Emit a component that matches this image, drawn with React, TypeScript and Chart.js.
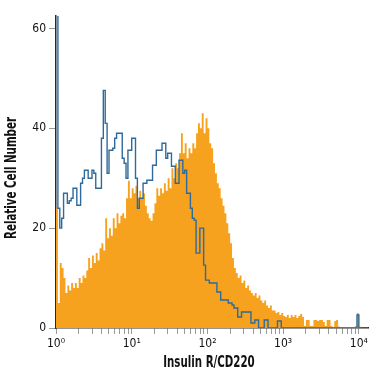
import React, { useEffect, useRef } from 'react';
import { Chart, registerables } from 'chart.js';

Chart.register(...registerables);

// Channel width in decades (log10 units); bins start at 10^0
const BIN_DECADES = 0.025;

// Orange filled histogram (Insulin R/CD220 stained)
const orangeCounts = [
  24, 5, 13, 12, 10, 7, 8.5, 7.5, 9, 8,
  9, 8, 10, 9, 10.5, 10, 11.5, 14, 12, 14.5,
  13, 15, 13.5, 16, 17, 15.5, 22, 18, 20, 18.5,
  22, 20, 23, 21, 22.5, 23, 22, 26, 29.5, 26,
  28, 27, 28.5, 26, 27.5, 26, 27, 24.5, 23, 22,
  21.5, 23, 25, 28, 26.5, 28, 27, 29, 27.5, 30,
  28, 32, 30, 33, 32, 35, 39, 35, 37, 34,
  36, 35, 37, 36, 39, 41, 40, 43, 39, 42,
  40, 37, 36, 33, 31, 29, 28, 26, 24.5, 23,
  21, 19, 17, 14, 12, 11, 10, 10.5, 9, 9.5,
  8, 8.5, 7.5, 7, 6.5, 7, 6, 6.5, 5.5, 5,
  5.5, 4.5, 4, 4.5, 3.5, 3.5, 3, 3.2, 2.6, 3,
  2.4, 2.2, 2.6, 2, 2.6, 2.2, 2.6, 2, 2.4, 2.8,
  2.2, 0.4, 1.6, 1.6, 0.4, 0.4, 1.6, 1.6, 1.4, 1.6,
  1.6, 1.2, 0.4, 1.6, 1.6, 0.4, 0.2, 1.4, 1.6, 0.3,
  0.2, 0.2, 0.2, 0.2, 0.2, 0.2, 0.2, 0.2, 0.4, 3,
  0.3, 0, 0, 0, 0,
];

// Blue outlined histogram (isotype control)
const blueCounts = [
  70, 24, 20, 22, 27, 27, 25, 25.5, 26, 28,
  28, 24.6, 24.6, 29, 30, 31.6, 31.6, 30, 30, 31.6,
  31, 28, 28, 28, 38, 47.6, 41, 31, 35.6, 35.6,
  36, 38, 39, 39, 39, 34, 33, 30, 35.6, 35.6,
  38, 38, 30, 24, 26, 26, 29, 29, 29.6, 29.6,
  29.6, 32.6, 32.6, 35.6, 35.6, 35.6, 37, 37, 34, 35,
  35, 32.4, 32.4, 29, 29, 33.6, 33.6, 31, 31.6, 27,
  27, 24, 22, 21.6, 15, 15, 20, 20, 12.6, 9.6,
  9.6, 9, 9, 9, 9, 7.2, 7.2, 5.6, 5.6, 5.6,
  5.6, 5, 5, 4.6, 4, 4, 2.2, 2.2, 3.2, 3.2,
  3.2, 3.2, 3.2, 1, 1, 1.6, 1.6, 0, 0, 0,
  1.6, 1.6, 0, 0, 0, 0, 0, 1.4, 1.4, 0,
  0, 0, 0, 0, 0, 0, 0, 0, 0, 0,
  0, 0, 0, 0, 0, 0, 0, 0, 0, 0,
  0, 0, 0, 0, 0, 0, 0, 0, 0, 0,
  0, 0, 0, 0, 0, 0, 0, 0, 0, 2.6,
  0, 0, 0, 0, 0,
];

const xTickValues = [
  1, 2, 3, 4, 5, 6, 7, 8, 9,
  10, 20, 30, 40, 50, 60, 70, 80, 90,
  100, 200, 300, 400, 500, 600, 700, 800, 900,
  1000, 2000, 3000, 4000, 5000, 6000, 7000, 8000, 9000,
  10000,
];
const xMajorLabels: Record<number, string> = {
  1: '10\u2070',
  10: '10\u00B9',
  100: '10\u00B2',
  1000: '10\u00B3',
  10000: '10\u2074',
};
const yTickValues = [0, 20, 40, 60];

const X_TITLE = 'Insulin R/CD220';
const Y_TITLE = 'Relative Cell Number';

const X_MIN = 1;
const X_MAX = 13200;
const Y_MAX = 62.5;

const FONT = "'Liberation Sans Narrow', 'DejaVu Sans Condensed', 'Liberation Sans', sans-serif";

function toSteps(counts: number[]) {
  const pts = counts.map((c, i) => ({ x: Math.pow(10, i * BIN_DECADES), y: c }));
  pts.push({ x: Math.pow(10, counts.length * BIN_DECADES), y: counts[counts.length - 1] });
  return pts;
}

// Condensed axis titles (the reference uses a narrow bold face)
const titlePlugin = {
  id: 'condensedTitles',
  afterDraw(chart: any) {
    const { ctx, chartArea } = chart;
    ctx.save();
    ctx.fillStyle = '#111';
    ctx.font = `bold 15px ${FONT}`;
    ctx.textAlign = 'center';
    ctx.textBaseline = 'middle';
    // x title
    ctx.save();
    ctx.translate((chartArea.left + chartArea.right) / 2 - 3, 363);
    ctx.scale(0.76, 1);
    ctx.fillText(X_TITLE, 0, 0);
    ctx.restore();
    // y title
    ctx.save();
    ctx.translate(12, (chartArea.top + chartArea.bottom) / 2 + 6);
    ctx.rotate(-Math.PI / 2);
    ctx.scale(0.76, 1);
    ctx.fillText(Y_TITLE, 0, 0);
    ctx.restore();
    ctx.restore();
  },
};

export default function App() {
  const ref = useRef<HTMLCanvasElement>(null);

  useEffect(() => {
    if (!ref.current) return;
    const chart = new Chart(ref.current, {
      type: 'line',
      data: {
        datasets: [
          {
            label: 'Insulin R/CD220',
            data: toSteps(orangeCounts),
            stepped: true,
            fill: 'origin',
            backgroundColor: '#f7a21e',
            borderWidth: 0,
            borderColor: 'rgba(0,0,0,0)',
            pointRadius: 0,
            order: 2,
          },
          {
            label: 'Isotype',
            data: toSteps(blueCounts),
            stepped: true,
            fill: false,
            borderColor: '#2f6a9c',
            borderWidth: 1.4,
            pointRadius: 0,
            order: 1,
          },
        ],
      },
      options: {
        animation: false,
        responsive: false,
        maintainAspectRatio: false,
        parsing: false as any,
        layout: { padding: { top: 16, right: 7, left: 0, bottom: 0 } },
        plugins: {
          legend: { display: false },
          tooltip: { enabled: false },
        },
        scales: {
          x: {
            type: 'logarithmic',
            min: X_MIN,
            max: X_MAX,
            afterBuildTicks: (scale: any) => {
              scale.ticks = xTickValues.map((v) => ({ value: v, major: !!xMajorLabels[v] }));
            },
            afterFit: (scale: any) => {
              scale.height = 47;
            },
            ticks: {
              autoSkip: false,
              maxRotation: 0,
              minRotation: 0,
              padding: 3,
              color: '#111',
              font: { family: FONT, size: 12 },
              callback: (value: any) => xMajorLabels[Number(value)] ?? '',
            },
            grid: {
              drawOnChartArea: false,
              drawTicks: true,
              tickLength: 6,
              color: '#9a9a9a',
              tickColor: '#9a9a9a',
              lineWidth: 1,
            },
            border: { display: true, color: '#2a2a2a', width: 1.5 },
            title: { display: false },
          },
          y: {
            type: 'linear',
            min: 0,
            max: Y_MAX,
            afterBuildTicks: (scale: any) => {
              scale.ticks = yTickValues.map((v) => ({ value: v }));
            },
            afterFit: (scale: any) => {
              scale.width = 56;
            },
            ticks: {
              padding: 3,
              color: '#111',
              font: { family: FONT, size: 12 },
            },
            grid: {
              drawOnChartArea: false,
              drawTicks: true,
              tickLength: 7,
              color: '#9a9a9a',
              tickColor: '#9a9a9a',
            },
            border: { display: true, color: '#1c2c3c', width: 1.5 },
            title: { display: false },
          },
        },
      },
      plugins: [titlePlugin],
    });
    return () => chart.destroy();
  }, []);

  return (
    <div style={{ position: 'fixed', left: 0, top: 0, width: 375, height: 375, background: '#fff' }}>
      <canvas ref={ref} width={375} height={375} style={{ width: 375, height: 375 }} />
    </div>
  );
}
